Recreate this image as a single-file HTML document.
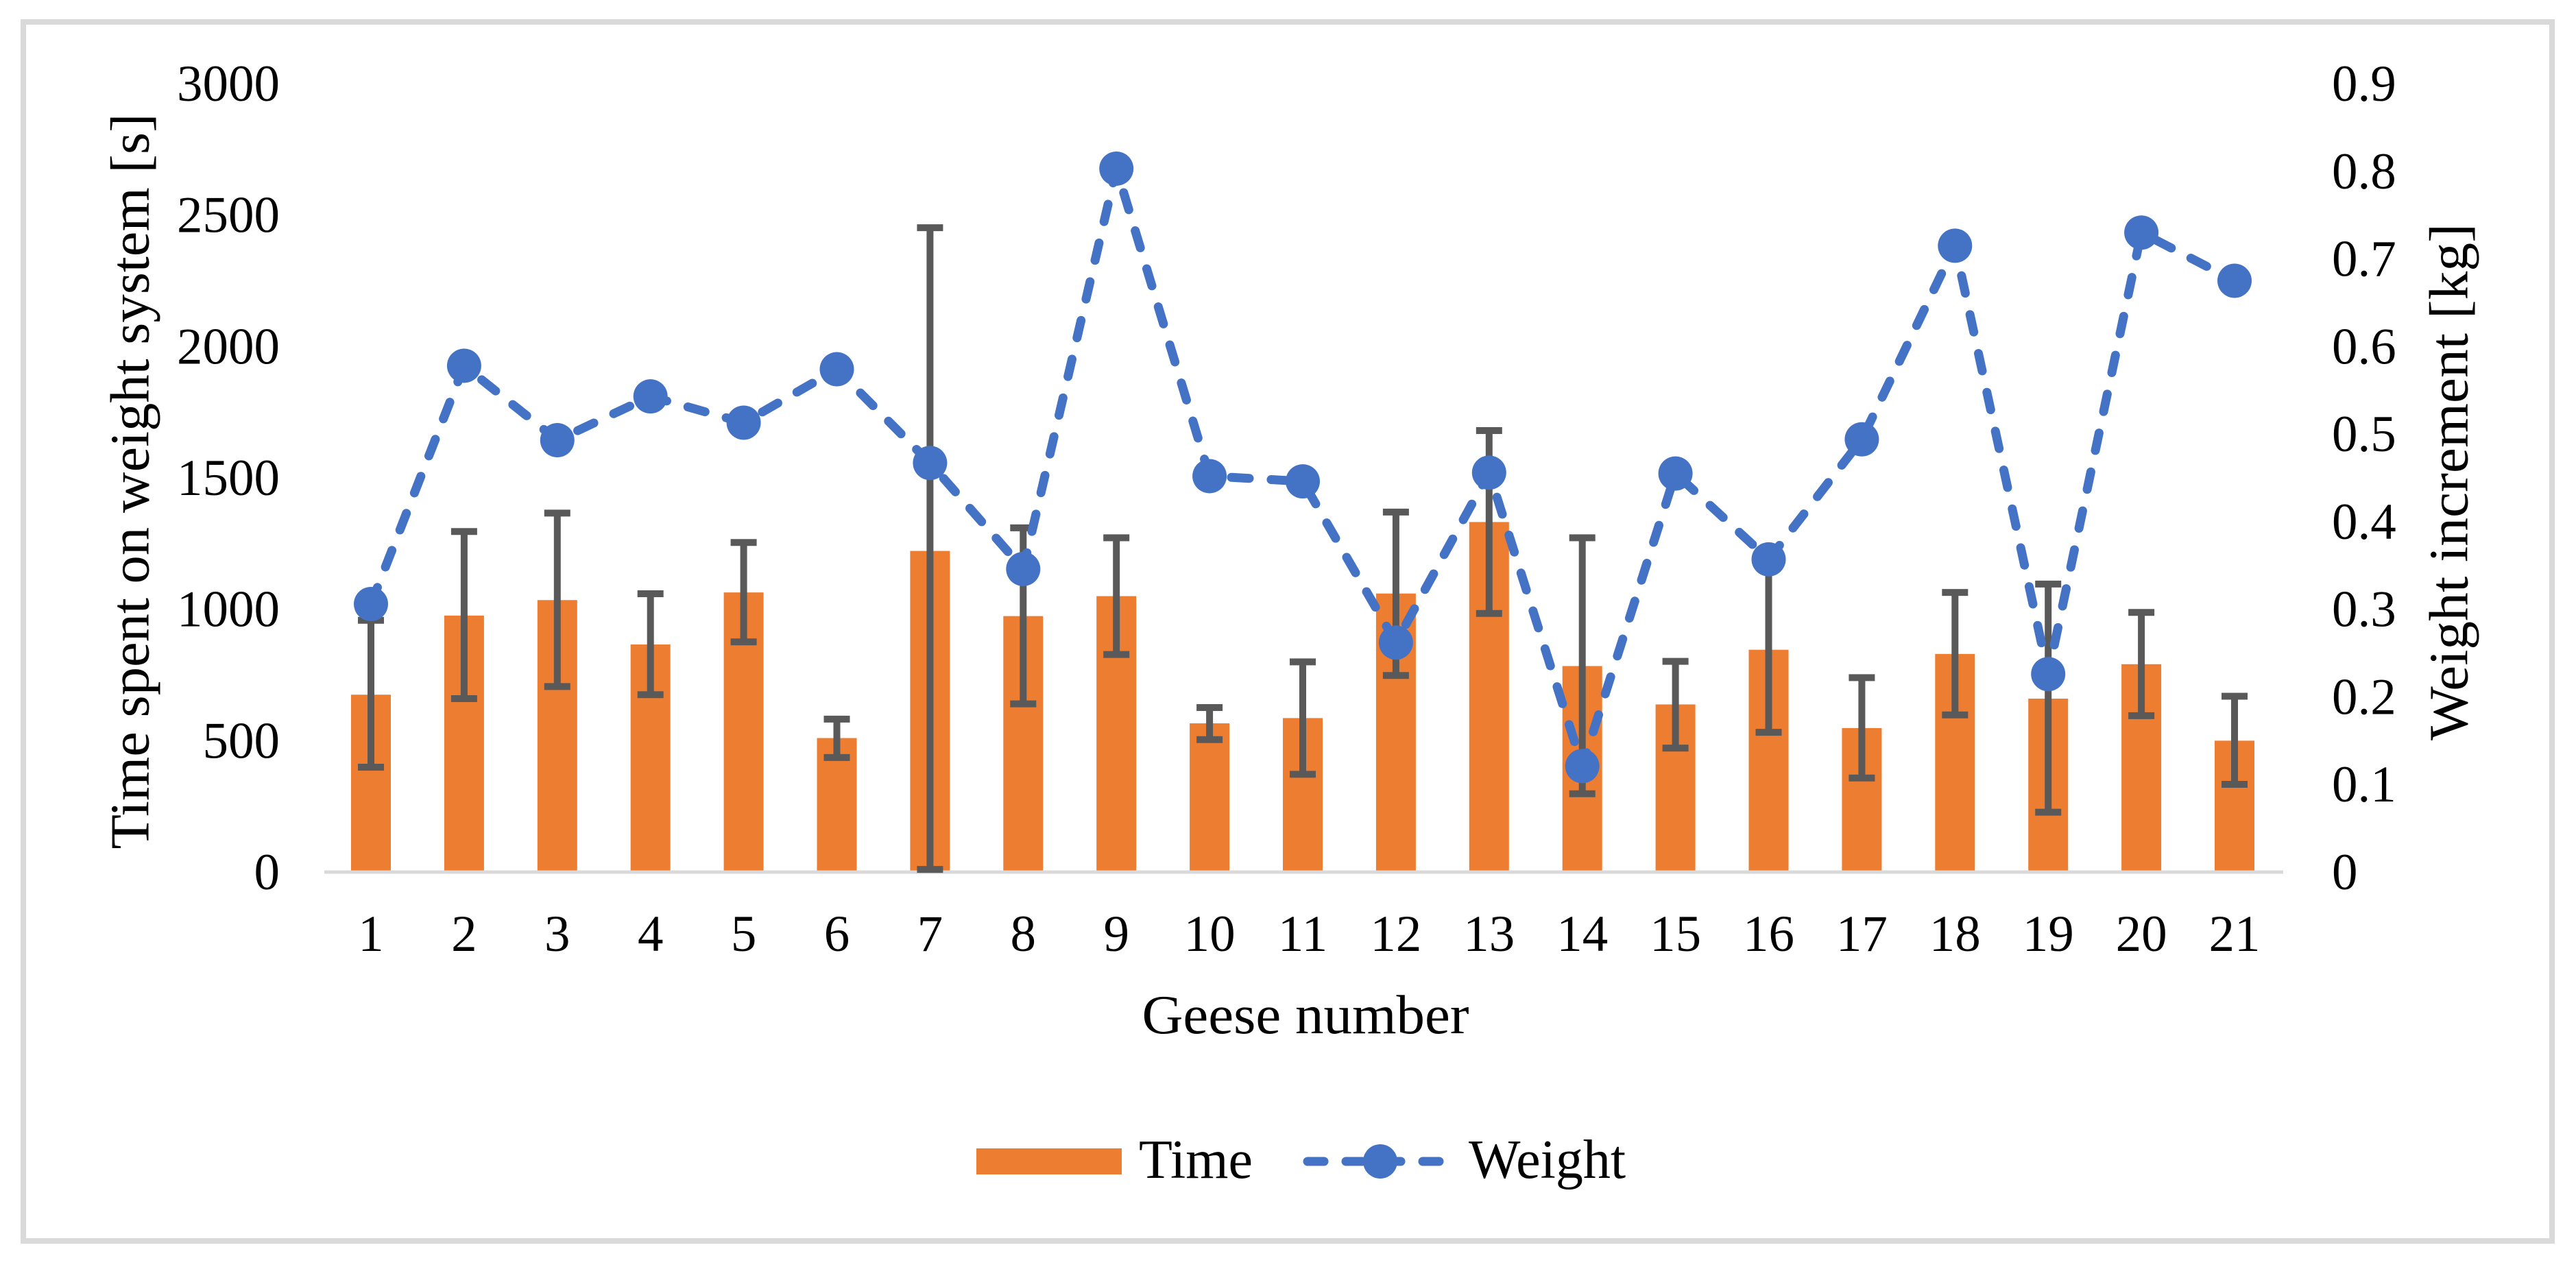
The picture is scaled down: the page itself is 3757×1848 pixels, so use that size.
<!DOCTYPE html>
<html><head><meta charset="utf-8"><style>
html,body{margin:0;padding:0;background:#fff;}
svg{display:block;}
text{font-family:"Liberation Serif",serif;fill:#000;}
</style></head><body>
<svg id="chart" width="3757" height="1848" viewBox="0 0 3757 1848" xmlns="http://www.w3.org/2000/svg">
<rect x="0" y="0" width="3757" height="1848" fill="#fff"/>
<rect x="34" y="32" width="3688" height="1778" fill="none" stroke="#d9d9d9" stroke-width="8"/>
<g id="yl"></g>
<g id="yr"></g>
<g id="bars"></g>
<line x1="473" y1="1272" x2="3330" y2="1272" stroke="#d9d9d9" stroke-width="5"/>
<g id="errs"></g>
<g id="line"></g>
<g id="xl"></g>
<text x="198" y="702" transform="rotate(-90 198 702)" text-anchor="middle" dominant-baseline="middle" font-size="80" textLength="1073" lengthAdjust="spacingAndGlyphs">Time spent on weight system [s]</text>
<text x="3580" y="703" transform="rotate(-90 3580 703)" text-anchor="middle" dominant-baseline="middle" font-size="80" textLength="754" lengthAdjust="spacingAndGlyphs">Weight increment [kg]</text>
<text x="1904" y="1507" text-anchor="middle" font-size="80" textLength="477" lengthAdjust="spacingAndGlyphs">Geese number</text>
<g>
<rect x="1424" y="1675" width="212" height="38" fill="#ed7d31"/>
<text x="1661" y="1718" font-size="80">Time</text>
<line x1="1907" y1="1694" x2="2120" y2="1694" stroke="#4472c4" stroke-width="13" stroke-dasharray="24 32" stroke-linecap="round"/>
<circle cx="2013" cy="1694" r="25" fill="#4472c4"/>
<text x="2142" y="1718" font-size="80">Weight</text>
</g>
</svg>
<script>
const categories = [1,2,3,4,5,6,7,8,9,10,11,12,13,14,15,16,17,18,19,20,21];
const timeValues = [675,976,1035,866,1064,510,1222,974,1050,566,586,1060,1332,784,638,846,548,830,660,791,500];
const errHigh = [958,1296,1366,1059,1254,582,2452,1310,1272,626,800,1370,1680,1272,802,1170,740,1064,1096,988,669];
const errLow = [399,660,706,675,876,436,10,640,828,504,372,748,984,298,472,532,358,598,228,595,334];
const weightValues = [0.306,0.578,0.493,0.543,0.513,0.574,0.467,0.346,0.803,0.452,0.446,0.262,0.456,0.121,0.455,0.357,0.494,0.715,0.226,0.730,0.675];
const leftTicks = [0,500,1000,1500,2000,2500,3000];
const rightTicks = ["0","0.1","0.2","0.3","0.4","0.5","0.6","0.7","0.8","0.9"];

const NS = "http://www.w3.org/2000/svg";
const Y0 = 1272, Y1 = 122, X1 = 541, DX = 135.9;
function xPos(i){ return X1 + i*DX; }
function yLeft(v){ return Y0 - (v/3000)*(Y0-Y1); }
function yRight(v){ return Y0 - (v/0.9)*(Y0-Y1); }
function mk(tag, attrs, parent){
  const e = document.createElementNS(NS, tag);
  for (const k in attrs) e.setAttribute(k, attrs[k]);
  parent.appendChild(e); return e;
}
const yl = document.getElementById('yl'), yr = document.getElementById('yr');
leftTicks.forEach(t => {
  const e = mk('text', {x:408, y:yLeft(t)+25, 'text-anchor':'end', 'font-size':75}, yl);
  e.textContent = t;
  
  
});
rightTicks.forEach(t => {
  const e = mk('text', {x:3401, y:yRight(parseFloat(t))+25, 'font-size':75}, yr);
  e.textContent = t;
  
  
});
const bars = document.getElementById('bars'), errs = document.getElementById('errs'), xl = document.getElementById('xl');
categories.forEach((c, i) => {
  const x = xPos(i);
  const b = mk('rect', {x:x-29, y:yLeft(timeValues[i]), width:58, height:Y0-yLeft(timeValues[i]), fill:'#ed7d31'}, bars);
  
  
  const g = mk('g', {stroke:'#595959', 'stroke-width':10}, errs);
  
  
  mk('line', {x1:x, x2:x, y1:yLeft(errHigh[i]), y2:yLeft(errLow[i])}, g);
  mk('line', {x1:x-19, x2:x+19, y1:yLeft(errHigh[i]), y2:yLeft(errHigh[i])}, g);
  mk('line', {x1:x-19, x2:x+19, y1:yLeft(errLow[i]), y2:yLeft(errLow[i])}, g);
  const t = mk('text', {x:x, y:1387, 'text-anchor':'middle', 'font-size':75}, xl);
  t.textContent = c;
  
  
});
const lg = document.getElementById('line');
const pts = weightValues.map((v,i) => xPos(i)+','+yRight(v)).join(' ');
const pl = mk('polyline', {points:pts, fill:'none', stroke:'#4472c4', 'stroke-width':13, 'stroke-dasharray':'26 32', 'stroke-linecap':'round', 'stroke-linejoin':'round'}, lg);


weightValues.forEach((v,i) => {
  const m = mk('circle', {cx:xPos(i), cy:yRight(v), r:25, fill:'#4472c4'}, lg);
  
  
});
</script>
</body></html>
